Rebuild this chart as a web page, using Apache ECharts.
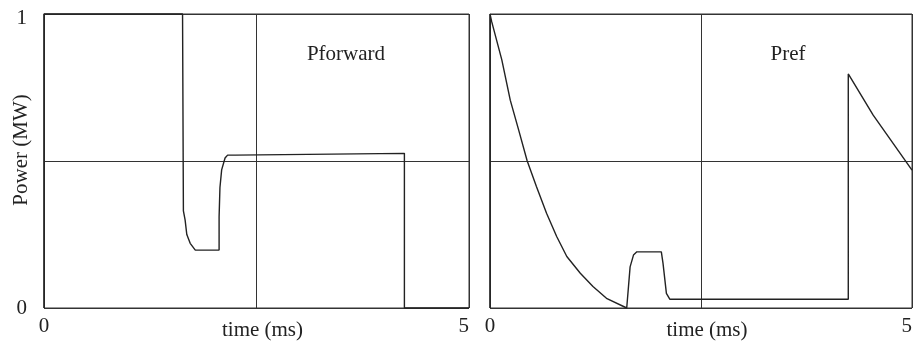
<!DOCTYPE html>
<html>
<head>
<meta charset="utf-8">
<script src="https://cdn.jsdelivr.net/npm/echarts@6/dist/echarts.min.js"></script>
<style>
  html, body { margin: 0; padding: 0; background: #fff; }
  #chart { width: 914px; height: 345px; }
</style>
</head>
<body>
<div id="chart"></div>
<script>
// Forward power trace (time in ms, power in MW)
const timeForward = [0, 0, 1.63, 1.64, 1.66, 1.68, 1.72, 1.78, 2.06, 2.06, 2.07, 2.09, 2.13, 2.16, 2.25, 2.27, 4.24, 4.24, 5.0];
const powerForward = [0, 1.0, 1.0, 0.33, 0.30, 0.25, 0.22, 0.197, 0.197, 0.31, 0.41, 0.47, 0.51, 0.52, 0.52, 0.526, 0.526, 0, 0];

// Reflected power trace
const timeReflected = [0, 0, 0.02, 0.14, 0.24, 0.34, 0.44, 0.55, 0.67, 0.79, 0.91, 1.07, 1.22, 1.38, 1.62, 1.66, 1.70, 1.74, 2.03, 2.05, 2.09, 2.13, 4.245, 4.245, 4.54, 5.0];
const powerReflected = [0, 1.0, 0.974, 0.844, 0.707, 0.605, 0.501, 0.413, 0.322, 0.243, 0.175, 0.118, 0.073, 0.033, 0.0, 0.14, 0.18, 0.191, 0.191, 0.152, 0.05, 0.03, 0.03, 0.796, 0.656, 0.469];

// Tick labels shown on the axes
const xTickLabels = [0, 5];
const yTickLabels = [0, 1];

const panelTitles = ['Pforward', 'Pref'];
const xAxisTitle = 'time (ms)';
const yAxisTitle = 'Power (MW)';

const ink = '#222';
const gridInk = '#333';
const font = "'Liberation Serif', 'Times New Roman', serif";

function pairs(ts, ps) { return ts.map((t, i) => [t, ps[i]]); }

function xAxisFor(gridIndex) {
  return {
    gridIndex, type: 'value', min: 0, max: 5, interval: 2.5,
    name: xAxisTitle, nameLocation: 'middle', nameGap: 12, nameMoveOverlap: false,
    nameTextStyle: { fontFamily: font, fontSize: 21, color: ink, padding: [0, 0, 0, 12] },
    axisLine: { show: false }, axisTick: { show: false },
    axisLabel: {
      margin: 8, fontFamily: font, fontSize: 21, color: ink,
      alignMinLabel: 'center', alignMaxLabel: 'right',
      formatter: v => xTickLabels.includes(v) ? String(v) : ''
    },
    splitLine: { show: true, lineStyle: { color: gridInk, width: 1 } }
  };
}

function yAxisFor(gridIndex, withLabels) {
  return {
    gridIndex, type: 'value', min: 0, max: 1, interval: 0.5,
    name: withLabels ? yAxisTitle : '', nameLocation: 'middle', nameGap: 12, nameMoveOverlap: false,
    nameTextStyle: { fontFamily: font, fontSize: 21, color: ink, padding: [0, 0, 0, 22] },
    axisLine: { show: false }, axisTick: { show: false },
    axisLabel: {
      show: withLabels, margin: 17, fontFamily: font, fontSize: 21, color: ink,
      formatter: v => yTickLabels.includes(v) ? (v === 1 ? '{top|1}' : String(v)) : '',
      rich: { top: { fontFamily: font, fontSize: 21, color: ink, padding: [8, 0, 0, 0] } }
    },
    splitLine: { show: true, lineStyle: { color: gridInk, width: 1 } }
  };
}

function traceSeries(idx, data) {
  return {
    type: 'line', xAxisIndex: idx, yAxisIndex: idx, data,
    showSymbol: false, clip: false, animation: false,
    lineStyle: { color: ink, width: 1.4 }
  };
}

const gridBase = {
  top: 14, height: 294, show: true, borderColor: gridInk, borderWidth: 1,
  backgroundColor: 'transparent', containLabel: false, outerBoundsMode: 'none'
};

const chart = echarts.init(document.getElementById('chart'), null, { renderer: 'canvas' });
chart.setOption({
  backgroundColor: '#fff',
  animation: false,
  title: [
    { text: panelTitles[0], left: 341, top: 39, textAlign: 'center',
      textStyle: { fontFamily: font, fontSize: 21, fontWeight: 'normal', color: ink } },
    { text: panelTitles[1], left: 783, top: 39, textAlign: 'center',
      textStyle: { fontFamily: font, fontSize: 21, fontWeight: 'normal', color: ink } }
  ],
  grid: [
    Object.assign({ left: 44, width: 425 }, gridBase),
    Object.assign({ left: 490, width: 422 }, gridBase)
  ],
  xAxis: [xAxisFor(0), xAxisFor(1)],
  yAxis: [yAxisFor(0, true), yAxisFor(1, false)],
  series: [
    traceSeries(0, pairs(timeForward, powerForward)),
    traceSeries(1, pairs(timeReflected, powerReflected))
  ]
});
</script>
</body>
</html>
